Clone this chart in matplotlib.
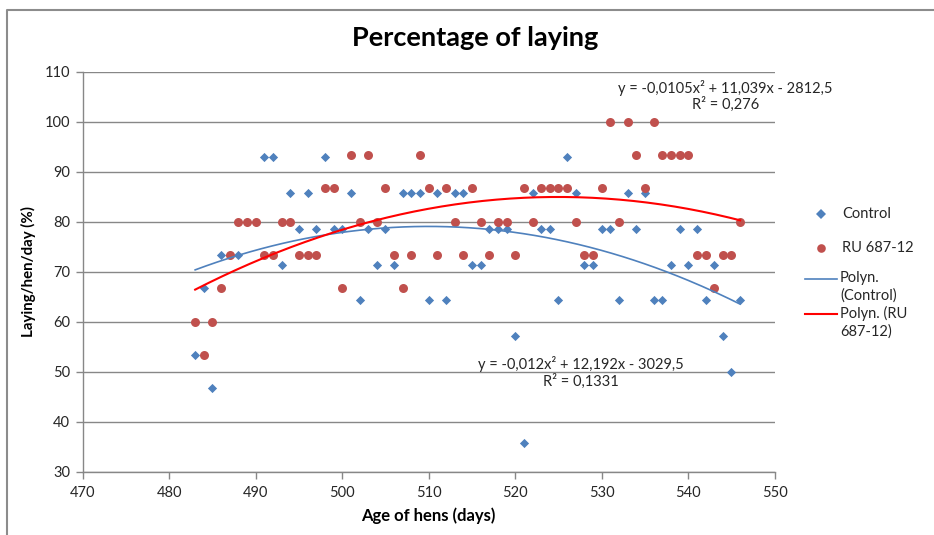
import numpy as np
import matplotlib
matplotlib.use("Agg")
import matplotlib.pyplot as plt
from matplotlib.lines import Line2D

plt.rcParams['font.family'] = ['Lato', 'DejaVu Sans']

# Age of hens (days) for each daily record
days = list(range(483, 547))

# Control group laying rate (%); a few early days overlap the RU points
control = [53.3, 66.7, 46.7, 73.3, 73.3, 73.3, 80.0, 80.0,
           92.9, 92.9, 71.4, 85.7, 78.6, 85.7, 78.6, 92.9,
           78.6, 78.6, 85.7, 64.3, 78.6, 71.4, 78.6, 71.4,
           85.7, 85.7, 85.7, 64.3, 85.7, 64.3, 85.7, 85.7,
           71.4, 71.4, 78.6, 78.6, 78.6, 57.1, 35.7, 85.7,
           78.6, 78.6, 64.3, 92.9, 85.7, 71.4, 71.4, 78.6,
           78.6, 64.3, 85.7, 78.6, 85.7, 64.3, 64.3, 71.4,
           78.6, 71.4, 78.6, 64.3, 71.4, 57.1, 50.0, 64.3]

# RU 687-12 group laying rate (%)
ru = [60.0, 53.3, 60.0, 66.7, 73.3, 80.0, 80.0, 80.0,
      73.3, 73.3, 80.0, 80.0, 73.3, 73.3, 73.3, 86.7,
      86.7, 66.7, 93.3, 80.0, 93.3, 80.0, 86.7, 73.3,
      66.7, 73.3, 93.3, 86.7, 73.3, 86.7, 80.0, 73.3,
      86.7, 80.0, 73.3, 80.0, 80.0, 73.3, 86.7, 80.0,
      86.7, 86.7, 86.7, 86.7, 80.0, 73.3, 73.3, 86.7,
      100.0, 80.0, 100.0, 93.3, 86.7, 100.0, 93.3, 93.3,
      93.3, 93.3, 73.3, 73.3, 66.7, 73.3, 73.3, 80.0]

series_names = ["Control", "RU 687-12", "Polyn.\n(Control)", "Polyn. (RU\n687-12)"]
eq_control = "y = -0,012x\u00b2 + 12,192x - 3029,5\nR\u00b2 = 0,1331"
eq_ru = "y = -0,0105x\u00b2 + 11,039x - 2812,5\nR\u00b2 = 0,276"

x_ticks = list(range(470, 551, 10))
y_ticks = list(range(30, 111, 10))

BLUE = "#4F81BD"
RED_PT = "#C0504D"
RED_LN = "#FF0000"
GRID = "#878787"
TXT = "#262626"

W, H = 934, 535
fig = plt.figure(figsize=(W / 100, H / 100), dpi=100)
ax = fig.add_axes([82.7 / W, 1 - 471.7 / H, 692 / W, 400 / H])

ax.set_xlim(470, 550)
ax.set_ylim(30, 110)
ax.set_xticks(x_ticks)
ax.set_yticks(y_ticks)
ax.yaxis.grid(True, color=GRID, lw=1.0)
ax.set_axisbelow(True)
for s in ("top", "right"):
    ax.spines[s].set_visible(False)
for s in ("left", "bottom"):
    ax.spines[s].set_color(GRID)
    ax.spines[s].set_linewidth(1.0)
ax.tick_params(axis="both", color=GRID, length=5, width=1.0,
               labelsize=10.5, labelcolor=TXT, direction="out")
ax.tick_params(axis="y", pad=4)
ax.tick_params(axis="x", pad=5)

xd = np.array(days, dtype=float)
c = np.array(control)
r = np.array(ru)

# Second-order polynomial trendlines
xs = np.linspace(xd.min(), xd.max(), 200)
pc = np.polyfit(xd, c, 2)
pr = np.polyfit(xd, r, 2)

ax.scatter(xd, c, marker="D", s=22, color=BLUE, zorder=3, linewidths=0)
ax.scatter(xd, r, marker="o", s=42, color=RED_PT, zorder=4, linewidths=0)
ax.plot(xs, np.polyval(pc, xs), color=BLUE, lw=1.2, zorder=5)
ax.plot(xs, np.polyval(pr, xs), color=RED_LN, lw=1.5, zorder=5)

ax.text(527.6, 49.9, eq_control, ha="center", va="center", fontsize=10.5,
        color=TXT, linespacing=1.15, zorder=6)
ax.text(544.3, 105.1, eq_ru, ha="center", va="center", fontsize=10.5,
        color=TXT, linespacing=1.1, zorder=6)

ax.set_xlabel("Age of hens (days)", fontsize=12, fontweight="bold", color="black", labelpad=6)
ax.set_ylabel("Laying/hen/day (%)", fontsize=10.8, fontweight="bold", color="black", labelpad=6)

fig.text(475 / W, 1 - 38 / H, "Percentage of laying", ha="center", va="center",
         fontsize=19.5, fontweight="bold", color="black")


def fx(px):
    return px / W


def fy(py):
    return 1 - py / H


# Legend
fig.add_artist(Line2D([fx(821)], [fy(214.3)], marker="D", ms=4.6, color=BLUE, lw=0, mew=0))
fig.add_artist(Line2D([fx(821)], [fy(247.7)], marker="o", ms=6.2, color=RED_PT, lw=0, mew=0))
fig.add_artist(Line2D([fx(805), fx(837)], [fy(279.3)] * 2, color=BLUE, lw=1.2))
fig.add_artist(Line2D([fx(805), fx(837)], [fy(314.3)] * 2, color=RED_LN, lw=1.5))
leg_y = [214.3, 247.7, 279.3, 314.3]
for name, yy in zip(series_names, leg_y):
    if "\n" in name:
        fig.text(fx(840), fy(yy - 8.5), name, ha="left", va="top",
                 fontsize=10.5, color=TXT, linespacing=1.35)
    else:
        fig.text(fx(842), fy(yy), name, ha="left", va="center",
                 fontsize=10.5, color=TXT)

# Chart frame
fig.add_artist(Line2D([fx(7), fx(7), fx(934)], [fy(535), fy(10), fy(10)],
                      color="#8C8C8C", lw=1.5))

fig.savefig("out.png", dpi=100)
